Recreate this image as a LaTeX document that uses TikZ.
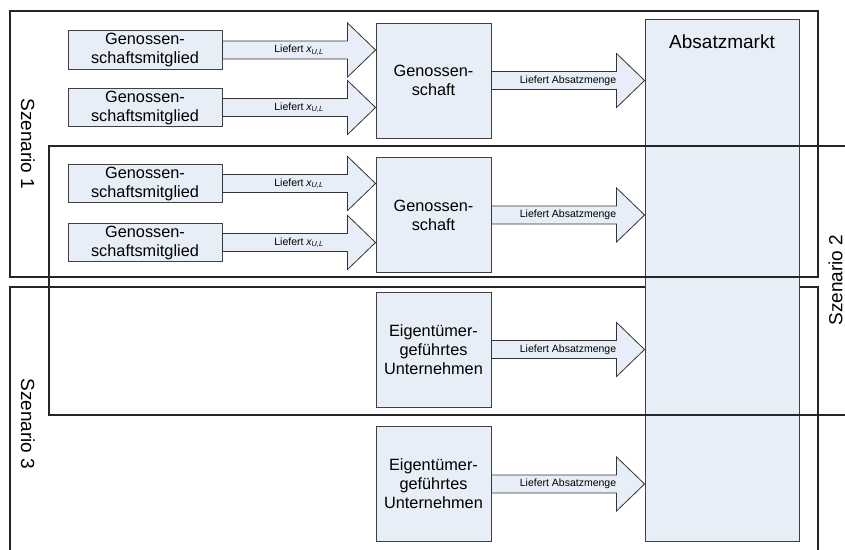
\documentclass[tikz,border=0pt]{standalone}
\usepackage{fontspec}
\setmainfont{Liberation Sans}
\usetikzlibrary{calc}
\definecolor{boxfill}{HTML}{E8EEF7}
\definecolor{boxline}{HTML}{404040}
\tikzset{
  box/.style={draw=boxline, fill=boxfill, line width=0.9pt, align=center, inner sep=0pt,
    font=\fontsize{16.3}{19}\selectfont},
  memberbox/.style={box, minimum width=154pt, minimum height=38.5pt},
  bigbox/.style={box, minimum width=115pt, minimum height=115pt},
  frame/.style={draw=black!85, line width=1.3pt},
  blockarrow/.style={draw=black!80, fill=boxfill, line width=0.8pt, line join=miter},
  arrowlabel/.style={font=\fontsize{10.5}{12}\selectfont, inner sep=0pt},
  scenlabel/.style={font=\fontsize{19}{22}\selectfont, inner sep=0pt},
}
\newcommand{\barrow}[3]{%
  \draw[blockarrow] let \p1=(#1), \p2=($(#2 |- #1)$) in
    (\x1,\y1+9pt) -- (\x2-28pt,\y1+9pt) -- (\x2-28pt,\y1+27pt) -- (\x2,\y1)
    -- (\x2-28pt,\y1-27pt) -- (\x2-28pt,\y1-9pt) -- (\x1,\y1-9pt) -- cycle;
  \node[arrowlabel] at ($(#1)!0.5!(#2 |- #1)$) {#3};
}
\newcommand{\xul}{Liefert {\itshape x}\textsubscript{\itshape U,L}}
\begin{document}
\begin{tikzpicture}[x=1pt, y=-1pt]
\useasboundingbox (0,0) rectangle (845,549);
\clip (0,0) rectangle (845,549);
% Scenario 3 frame (below the market box)
\draw[frame] (10,287) rectangle (818,561);
% market
\node[box, minimum width=154pt, minimum height=522pt, anchor=north] (am) at (722,19) {};
\node[font=\fontsize{19}{22}\selectfont, inner sep=0pt] (amtext) at (722,42) {Absatzmarkt};
% Scenario 1 and 2 frames
\draw[frame] (10,11) rectangle (818,277);
\draw[frame] (49,146) rectangle (880,415);
% scenario labels
\node[scenlabel, rotate=-90] (s1) at (28,144) {Szenario 1};
\node[scenlabel, rotate=-90] (s3) at (28,424) {Szenario 3};
\node[scenlabel, rotate=90, anchor=north] (s2) at (828.5,280) {Szenario 2};
% members
\node[memberbox] (m1) at (145,50) {Genossen-\\schaftsmitglied};
\node[memberbox] (m2) at (145,107.5) {Genossen-\\schaftsmitglied};
\node[memberbox] (m3) at (145,183.5) {Genossen-\\schaftsmitglied};
\node[memberbox] (m4) at (145,242.5) {Genossen-\\schaftsmitglied};
% cooperatives and firms
\node[bigbox] (g1) at (433.5,80.5) {Genossen-\\schaft};
\node[bigbox] (g2) at (433.5,215) {Genossen-\\schaft};
\node[bigbox] (e1) at (433.5,349.5) {Eigentümer-\\geführtes\\Unternehmen};
\node[bigbox] (e2) at (433.5,484) {Eigentümer-\\geführtes\\Unternehmen};
% arrows
\barrow{m1.east}{g1.west}{\xul}
\barrow{m2.east}{g1.west}{\xul}
\barrow{m3.east}{g2.west}{\xul}
\barrow{m4.east}{g2.west}{\xul}
\barrow{g1.east}{am.west}{Liefert Absatzmenge}
\barrow{g2.east}{am.west}{Liefert Absatzmenge}
\barrow{e1.east}{am.west}{Liefert Absatzmenge}
\barrow{e2.east}{am.west}{Liefert Absatzmenge}
\end{tikzpicture}
\end{document}
